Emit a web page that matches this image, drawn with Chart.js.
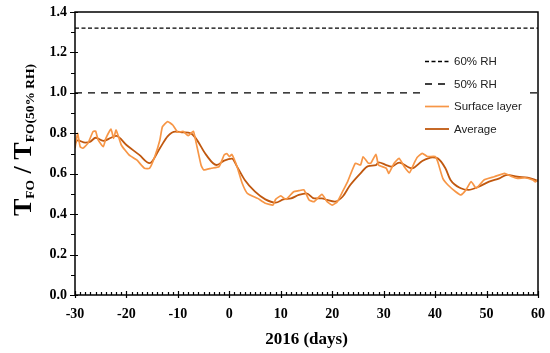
<!DOCTYPE html>
<html>
<head>
<meta charset="utf-8">
<script src="https://cdn.jsdelivr.net/npm/chart.js@4.4.1/dist/chart.umd.min.js"></script>
<style>
  html, body { margin: 0; padding: 0; background: #fff; }
  #wrap { width: 550px; height: 353px; }
</style>
</head>
<body>
<div id="wrap"><canvas id="tfoChart" width="550" height="353"></canvas></div>
<script>
// ---- data ----
const xTicks = [-30, -20, -10, 0, 10, 20, 30, 40, 50, 60];
const yTicks = [0.0, 0.2, 0.4, 0.6, 0.8, 1.0, 1.2, 1.4];

const rh60Days = [-30, 60];
const rh60Values = [1.32, 1.32];
const rh50Days = [-30, 60];
const rh50Values = [1.0, 1.0];

const surfDays = [-30, -29.5, -29, -28.5, -27.5, -26.5, -26, -25.5, -24.5, -24, -23, -22.5, -22, -21, -19.5, -18, -16.5, -15.5,
  -14.5, -13.5, -13, -12, -11, -10, -9, -8, -7, -6.5, -5.5, -5, -3.5, -2, -1, -0.5, 0, 0.5, 1.5, 2.5, 3.5, 5.5, 7, 8.5,
  9, 10, 11, 12.5, 13.5, 14.5, 15.5, 16.5, 18, 19, 20, 21, 22, 23, 24.5, 25.5, 26, 27, 27.5, 28.5, 29, 30.5, 31, 32, 33,
  34, 35, 36, 36.5, 37.5, 38.5, 40, 40.5, 41.5, 42.5, 44, 45, 46, 47, 48, 49.5, 51.5, 53.5, 55, 56, 57.5, 59, 59.5, 60];
const surfValues = [0.726, 0.80, 0.734, 0.726, 0.75, 0.808, 0.811, 0.767, 0.734, 0.775, 0.821, 0.775, 0.816, 0.742, 0.693, 0.668, 0.627, 0.627,
  0.684, 0.767, 0.833, 0.858, 0.841, 0.805, 0.81, 0.788, 0.81, 0.759, 0.643, 0.619, 0.627, 0.635, 0.693, 0.70, 0.685, 0.695, 0.635, 0.553, 0.503, 0.478, 0.454, 0.445,
  0.473, 0.49, 0.473, 0.511, 0.516, 0.52, 0.47, 0.462, 0.498, 0.462, 0.445, 0.462, 0.511, 0.561, 0.652, 0.643, 0.684, 0.652, 0.652, 0.696, 0.643, 0.627, 0.602, 0.651, 0.676,
  0.635, 0.605, 0.656, 0.68, 0.701, 0.685, 0.685, 0.66, 0.577, 0.544, 0.511, 0.495, 0.52, 0.561, 0.528, 0.569, 0.585, 0.602, 0.585, 0.577, 0.58, 0.569, 0.56, 0.569];

const avgDays = [-30, -29.5, -28, -27, -26, -24.5, -23, -22, -20, -17.5, -15.5, -13.5, -12, -10.5, -9, -7.5, -6.5, -4.5, -2.5, -1, 0.5,
  1.5, 3, 5, 7, 9, 10.5, 12, 13.5, 15, 16.5, 18, 19, 20.5, 22, 23.5, 25.5, 27, 28.5, 29, 30.5, 31.5, 33, 35.5, 37.5, 39.5, 40.5,
  42, 43, 45, 46.5, 48.5, 50.5, 52.5, 54, 56, 58, 60];
const avgValues = [0.75, 0.765, 0.754, 0.759, 0.778, 0.762, 0.778, 0.787, 0.742, 0.693, 0.652, 0.726, 0.785, 0.808, 0.805, 0.80, 0.775, 0.693, 0.643, 0.665, 0.675,
  0.635, 0.569, 0.511, 0.473, 0.457, 0.473, 0.478, 0.495, 0.503, 0.478, 0.478, 0.47, 0.462, 0.486, 0.544, 0.602, 0.638, 0.643, 0.656, 0.643, 0.635, 0.655, 0.627, 0.663, 0.681, 0.676,
  0.627, 0.569, 0.528, 0.52, 0.536, 0.561, 0.577, 0.594, 0.585, 0.581, 0.565];

const seriesLabels = ['60% RH', '50% RH', 'Surface layer', 'Average'];

const pts = (xs, ys) => xs.map((x, i) => ({ x, y: ys[i] }));
const SERIF = '"Liberation Serif", "Times New Roman", serif';

// frame, minor/major ticks, legend box, y title with subscripts
const decorPlugin = {
  id: 'decor',
  afterDraw(chart) {
    const { ctx, chartArea: a, scales: { x, y } } = chart;
    ctx.save();
    ctx.strokeStyle = '#000';
    ctx.lineWidth = 1.5;
    ctx.strokeRect(a.left, a.top, a.right - a.left, a.bottom - a.top);

    ctx.lineWidth = 1.2;
    ctx.beginPath();
    for (let d = -30; d <= 60; d++) {
      const px = Math.round(x.getPixelForValue(d)) + 0.5;
      if (d % 10 === 0) { ctx.moveTo(px, a.bottom - 4); ctx.lineTo(px, a.bottom + 3); }
      else { ctx.moveTo(px, a.bottom - 3); ctx.lineTo(px, a.bottom); }
    }
    for (let i = 0; i <= 14; i++) {
      const py = Math.round(y.getPixelForValue(i / 10)) + 0.5;
      if (i % 2 === 0) { ctx.moveTo(a.left - 5, py); ctx.lineTo(a.left + 3, py); }
      else { ctx.moveTo(a.left - 4, py); ctx.lineTo(a.left, py); }
    }
    ctx.stroke();

    // legend inside plot, white box breaks the 50% RH line
    ctx.fillStyle = '#fff';
    ctx.fillRect(422, 50, 108, 90);
    const ds = chart.data.datasets;
    const rows = [61.5, 84, 106.5, 129];
    ctx.font = '11.5px "Liberation Sans", Arial, sans-serif';
    ctx.textBaseline = 'middle';
    seriesLabels.forEach((lbl, i) => {
      const d = ds.find(s => s.label === lbl);
      ctx.beginPath();
      ctx.setLineDash(d.borderDash || []);
      ctx.strokeStyle = d.borderColor;
      ctx.lineWidth = d.borderWidth;
      ctx.moveTo(425, rows[i]); ctx.lineTo(449, rows[i]);
      ctx.stroke();
      ctx.setLineDash([]);
      ctx.fillStyle = '#222';
      ctx.fillText(lbl, 454, rows[i] + 0.5);
    });

    // y axis title: T_FO / T_FO(50% RH)
    const parts = [
      { t: 'T', big: true }, { t: 'FO', big: false }, { t: ' / ', big: true },
      { t: 'T', big: true }, { t: 'FO(50% RH)', big: false }
    ];
    const bigF = 'bold 26px ' + SERIF, subF = 'bold 13.5px ' + SERIF;
    let total = 0;
    parts.forEach(p => { ctx.font = p.big ? bigF : subF; p.w = ctx.measureText(p.t).width; total += p.w; });
    ctx.translate(31, 140 + total / 2);
    ctx.rotate(-Math.PI / 2);
    ctx.fillStyle = '#000';
    ctx.textBaseline = 'alphabetic';
    let cx = 0;
    parts.forEach(p => {
      ctx.font = p.big ? bigF : subF;
      ctx.fillText(p.t, cx, p.big ? 0 : 3);
      cx += p.w;
    });
    ctx.restore();
  }
};

new Chart(document.getElementById('tfoChart'), {
  type: 'line',
  data: {
    datasets: [
      { label: '60% RH', data: pts(rh60Days, rh60Values), borderColor: '#000', borderWidth: 1.3, borderDash: [4, 2.5], pointRadius: 0 },
      { label: '50% RH', data: pts(rh50Days, rh50Values), borderColor: '#000', borderWidth: 1.3, borderDash: [7, 6], pointRadius: 0 },
      { label: 'Surface layer', data: pts(surfDays, surfValues), borderColor: '#F79646', borderWidth: 1.7, pointRadius: 0, tension: 0.15 },
      { label: 'Average', data: pts(avgDays, avgValues), borderColor: '#C0580F', borderWidth: 1.8, pointRadius: 0, cubicInterpolationMode: 'monotone' }
    ]
  },
  options: {
    responsive: false,
    animation: false,
    layout: { padding: { top: 12, right: 12, left: 0, bottom: 0 } },
    plugins: { legend: { display: false }, tooltip: { enabled: false } },
    scales: {
      x: {
        type: 'linear', min: -30, max: 60,
        afterFit: s => { s.height = 58; s.paddingLeft = 0; s.paddingRight = 0; },
        afterBuildTicks: s => { s.ticks = xTicks.map(v => ({ value: v })); },
        grid: { display: false, drawTicks: false },
        border: { display: false },
        ticks: { color: '#000', padding: 11, font: { family: SERIF, size: 14, weight: 'bold' } },
        title: { display: true, text: '2016 (days)', color: '#000', padding: { top: 0, bottom: 3 }, font: { family: SERIF, size: 17, weight: 'bold' } }
      },
      y: {
        min: 0, max: 1.4,
        afterFit: s => { s.width = 75; s.paddingTop = 0; s.paddingBottom = 0; },
        afterBuildTicks: s => { s.ticks = yTicks.map(v => ({ value: v })); },
        grid: { display: false, drawTicks: false },
        border: { display: false },
        ticks: { color: '#000', padding: 8, font: { family: SERIF, size: 14, weight: 'bold' }, callback: v => v.toFixed(1) }
      }
    }
  },
  plugins: [decorPlugin]
});
</script>
</body>
</html>
